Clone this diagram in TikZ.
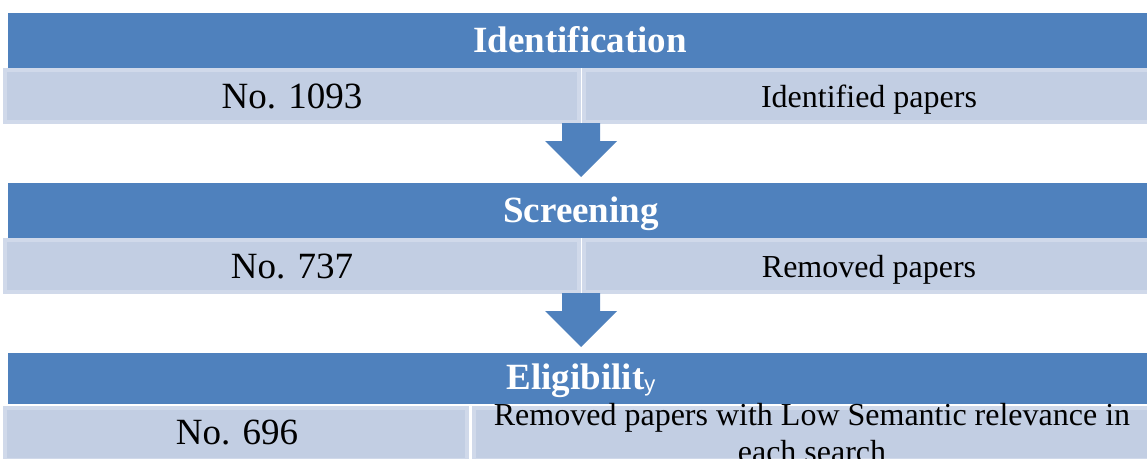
\documentclass[tikz,border=0pt]{standalone}
\usepackage{fontspec}
\setmainfont{Liberation Serif}
\newfontfamily\smallsans{Liberation Sans}
\definecolor{hdrblue}{HTML}{4F81BD}
\definecolor{cellfill}{HTML}{C2CEE3}
\definecolor{cellrim}{HTML}{D0D9EA}
\begin{document}
\begin{tikzpicture}[x=1pt,y=-1pt,
  hdr/.style={fill=hdrblue,draw=none,inner sep=0pt,outer sep=0pt,anchor=north west},
  cellbox/.style={fill=cellfill,draw=cellrim,line width=4pt,inner sep=0pt,outer sep=0pt},
  hdrtext/.style={text=white,font=\bfseries\fontsize{37}{40}\selectfont,inner sep=0pt,anchor=base},
  numtext/.style={text=black,font=\fontsize{37}{40}\selectfont,inner sep=0pt,anchor=base},
  desctext/.style={text=black,font=\fontsize{32}{37}\selectfont,inner sep=0pt,anchor=base},
  blockarrow/.pic={\fill[hdrblue] (-19,0) -- (19,0) -- (19,18) -- (36,18) -- (0,54) -- (-36,18) -- (-19,18) -- cycle;}
]
\useasboundingbox (0,0) rectangle (1147,458);
\clip (0,0) rectangle (1147,458);

% Row 1
\node[hdr,minimum width=1145pt,minimum height=55pt] (h1) at (8,13) {};
\node[cellbox,minimum width=574pt,minimum height=52pt] (c1l) at (292,96) {};
\node[cellbox,minimum width=565pt,minimum height=52pt] (c1r) at (866,96) {};
\node[hdrtext] (t1) at (580,52) {Identification};
\node[numtext] (n1) at (292,108) {No. 1093};
\node[desctext] (d1) at (869,107) {Identified papers};

% Row 2
\node[hdr,minimum width=1145pt,minimum height=55pt] (h2) at (8,183) {};
\node[cellbox,minimum width=574pt,minimum height=52pt] (c2l) at (292,266) {};
\node[cellbox,minimum width=565pt,minimum height=52pt] (c2r) at (866,266) {};
\node[hdrtext] (t2) at (581,222) {Screening};
\node[numtext] (n2) at (292,278) {No. 737};
\node[desctext] (d2) at (869,277) {Removed papers};

% Row 3
\node[hdr,minimum width=1145pt,minimum height=51pt] (h3) at (8,353) {};
\node[cellbox,minimum width=462pt,minimum height=52pt] (c3l) at (236,434) {};
\node[cellbox,minimum width=677pt,minimum height=52pt] (c3r) at (812,434) {};
\node[hdrtext] (t3) at (581,389) {Eligibilit{\smallsans\mdseries\fontsize{22}{22}\selectfont\raisebox{-2pt}{y}}};
\node[numtext] (n3) at (237,444) {No. 696};
\node[desctext] (d3a) at (812,425) {Removed papers with Low Semantic relevance in};
\node[desctext] (d3b) at (812,462) {each search};

% Arrows
\coordinate (a1) at (581,123);
\coordinate (a2) at (581,293);
\pic at (a1) {blockarrow};
\pic at (a2) {blockarrow};
\end{tikzpicture}
\end{document}
